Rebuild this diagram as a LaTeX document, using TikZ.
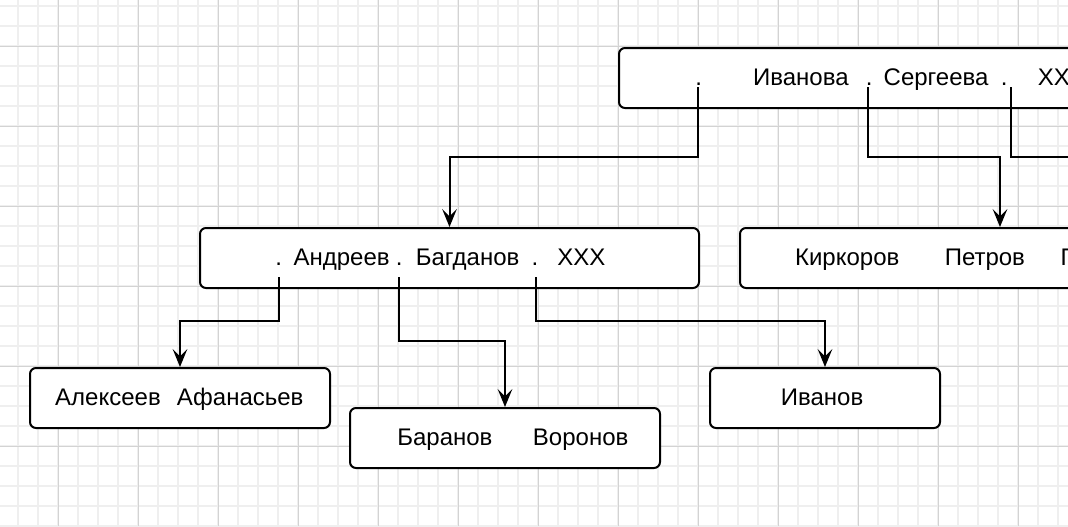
\documentclass[tikz,border=0pt]{standalone}
\usepackage{fontspec}
\setmainfont{Liberation Sans}
\usetikzlibrary{arrows.meta}
\newdimen\pxu \pxu=0.75pt
\newcommand{\pcs}[2]{\makebox[0pt][l]{\hspace*{#1\pxu}#2}}
\definecolor{gridminor}{HTML}{EFEFEF}
\definecolor{gridmajor}{HTML}{D3D3D3}
\tikzset{
  gminor/.style={draw=gridminor, line width=0.9pt},
  gmajor/.style={draw=gridmajor, line width=0.75pt},
  box/.style={draw=black, fill=white, line width=1.5pt, rounded corners=4.5pt,
              inner sep=0pt, anchor=north west, minimum height=45pt},
  txt/.style={anchor=base west, inner sep=0pt, font=\fontsize{18}{21.6}\selectfont, text=black},
  conn/.style={draw=black, line width=1.5pt,
               -{Stealth[length=13.5pt, width=11pt, inset=5.5pt]}},
  plain/.style={draw=black, line width=1.5pt}
}
\begin{document}
\begin{tikzpicture}[x=0.75pt, y=-0.75pt]
\useasboundingbox (0,0) rectangle (1068,526);
\clip (0,0) rectangle (1068,526);
\fill[white] (0,0) rectangle (1068,526);
% grid
\foreach \x in {18,38,...,1060} \draw[gminor] (\x,0) -- (\x,526);
\foreach \y in {6,26,...,526} \draw[gminor] (0,\y) -- (1068,\y);
\foreach \x in {58,138,...,1060} \draw[gmajor] (\x,0) -- (\x,526);
\foreach \y in {46,126,...,520} \draw[gmajor] (0,\y) -- (1068,\y);

% boxes
\node[box, minimum width=510pt] (top) at (618,47) {};
\node[box, minimum width=374.25pt] (ml) at (199,227) {};
\node[box, minimum width=390pt] (kk) at (739,227) {};
\node[box, minimum width=225pt] (al) at (29,367) {};
\node[box, minimum width=232.5pt] (ba) at (349,407) {};
\node[box, minimum width=172.5pt] (iv) at (709,367) {};

% texts
\node[txt] (ttop) at (694.4,85.5) {\pcs{0}{.}\pcs{57.8}{Иванова}\pcs{170.6}{.}\pcs{188.4}{Сергеева}\pcs{305.6}{.}\pcs{342.7}{XXX}};
\node[txt] (tml) at (274.4,265.5) {\pcs{0}{.}\pcs{18.3}{Андреев}\pcs{120.6}{.}\pcs{140.6}{Багданов}\pcs{256.3}{.}\pcs{282.1}{XXX}};
\node[txt] (tkk) at (794.1,265.5) {\pcs{0}{Киркоров}\pcs{149.7}{Петров}\pcs{265.7}{П}};
\node[txt] (tal) at (54.3,405.5) {\pcs{0}{Алексеев}\pcs{121.7}{Афанасьев}};
\node[txt] (tba) at (396.4,445.5) {\pcs{0}{Баранов}\pcs{135.7}{Воронов}};
\node[txt] (tiv) at (779.9,405.5) {\pcs{0}{Иванов}};

% connector starts
\coordinate (s1) at (697.7,87);
\coordinate (s2) at (868.3,87);
\coordinate (s3) at (1011.3,87);
\coordinate (e3) at (1090,157);
\coordinate (m1) at (279,277);
\coordinate (m2) at (399,277);
\coordinate (m3) at (535.7,277);

% connectors
\draw[conn] (s1) -- ++(0,70) -| (ml.north);
\draw[conn] (s2) -- ++(0,70) -| (kk.north);
\draw[plain] (s3) |- (e3);
\draw[conn] (m1) -- ++(0,44) -| (al.north);
\draw[conn] (m2) -- ++(0,64) -| (ba.north);
\draw[conn] (m3) -- ++(0,44) -| (iv.north);
\end{tikzpicture}
\end{document}
